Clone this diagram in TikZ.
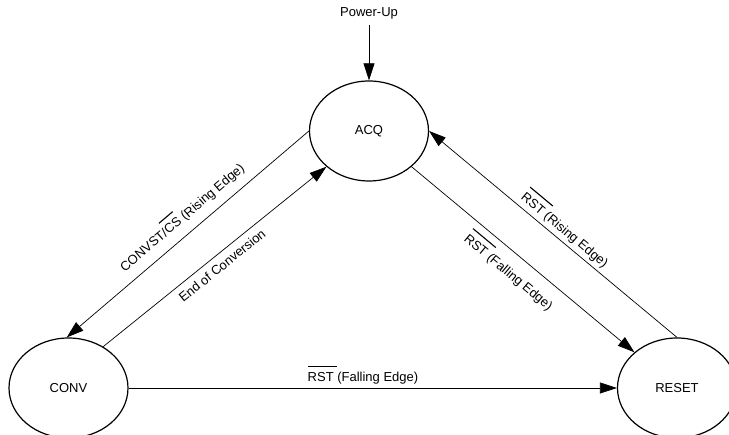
\documentclass[tikz,border=0pt]{standalone}
\usepackage{fontspec}
\setmainfont{Liberation Sans}
\usetikzlibrary{arrows.meta, positioning, shapes.geometric}
\tikzset{
  txt/.style   = {font=\fontsize{13}{15}\selectfont},
  state/.style = {draw, ellipse, line width=1.2pt, minimum width=119pt,
                  minimum height=100pt, inner sep=0pt, txt},
  arr/.style   = {-{Triangle[length=17pt, width=11pt]}, line width=0.7pt}
}
% bar over a signal name
\newcommand{\ovl}[1]{\leavevmode\vbox{\hrule height 1.1pt\kern 5.5pt\hbox{#1}}}

\begin{document}
\begin{tikzpicture}[x=1pt, y=1pt]
  \useasboundingbox (0,0) rectangle (729,435);
  \node[state] (acq) at (369,304) {ACQ};
  \node[state, on grid, below left=257pt and 300.5pt of acq] (conv) {CONV};
  \node[state, on grid, right=608.5pt of conv] (reset) {RESET};
  \node[txt, above=55pt of acq, inner sep=6pt] (pwr) {Power-Up};
  \draw[arr] (pwr) -- (acq);
  \draw[arr] (acq.180) -- node[txt, sloped, above=5.5pt, pos=0.48] {CONVST/\ovl{CS} (Rising Edge)} (conv.92);
  \draw[arr] (conv.50) -- node[txt, sloped, below=3pt] {End of Conversion} (acq.220);
  \draw[arr] (acq.320) -- node[txt, sloped, below=4pt, pos=0.49] {\ovl{RST\ }(Falling Edge)} (reset.140);
  \draw[arr] (reset.north) -- node[txt, sloped, above, pos=0.48] {\ovl{RST\ }(Rising Edge)} (acq.east);
  \draw[arr] (conv.east) -- node[txt, above, pos=0.48] {\ovl{RST\ }(Falling Edge)} (reset.west);
\end{tikzpicture}
\end{document}
